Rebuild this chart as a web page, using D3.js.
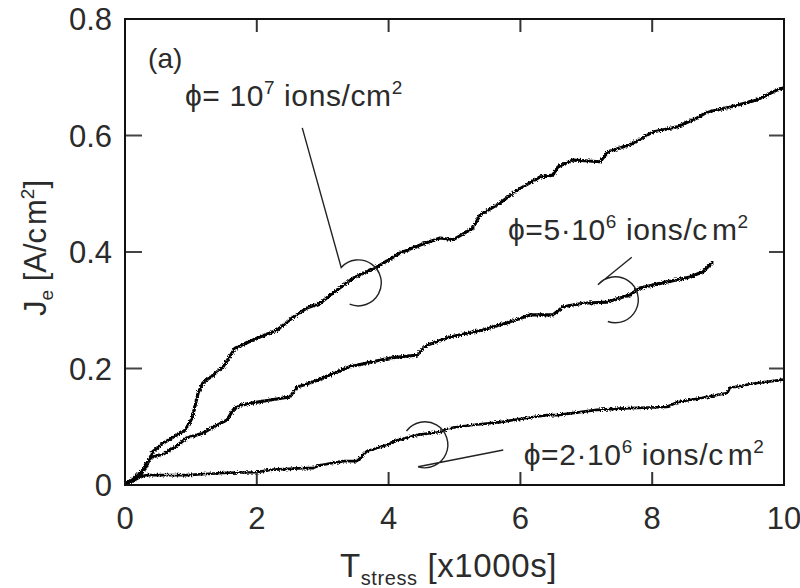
<!DOCTYPE html>
<html>
<head>
<meta charset="utf-8">
<script src="https://cdn.jsdelivr.net/npm/d3@7"></script>
<style>
  html, body { margin: 0; padding: 0; background: #fff; }
  svg { display: block; font-family: "Liberation Sans", Arial, sans-serif; }
</style>
</head>
<body>
<svg id="chart" width="800" height="588"></svg>
<script>
// ---- data (T_stress in 1000 s, Je in A/cm2) ----
const seriesHigh = [
  [0,0],[0.03,0.003],[0.18,0.017],[0.30,0.026],[0.42,0.057],[0.58,0.072],[0.73,0.082],
  [0.91,0.094],[1.02,0.115],[1.11,0.158],[1.18,0.175],[1.34,0.189],[1.49,0.203],
  [1.67,0.235],[1.85,0.244],[2.00,0.252],[2.31,0.266],[2.55,0.288],[2.76,0.304],
  [2.96,0.312],[3.16,0.330],[3.46,0.355],[3.82,0.374],[4.17,0.398],[4.48,0.412],
  [4.78,0.424],[4.98,0.421],[5.28,0.441],[5.39,0.464],[5.69,0.484],[5.95,0.506],
  [6.30,0.529],[6.49,0.532],[6.57,0.546],[6.80,0.558],[7.21,0.555],[7.33,0.572],
  [7.66,0.584],[8.01,0.606],[8.38,0.615],[8.68,0.630],[8.83,0.640],[9.18,0.649],
  [9.59,0.661],[9.89,0.678],[10.0,0.682]
];
const seriesMid = [
  [0,0],[0.08,0.005],[0.23,0.014],[0.33,0.038],[0.42,0.048],[0.58,0.053],[0.76,0.065],
  [0.94,0.081],[1.18,0.089],[1.40,0.103],[1.55,0.112],[1.64,0.129],[1.75,0.137],
  [1.94,0.141],[2.20,0.146],[2.50,0.151],[2.61,0.168],[2.81,0.175],[2.96,0.182],
  [3.41,0.203],[4.02,0.218],[4.43,0.223],[4.58,0.240],[4.93,0.254],[5.43,0.266],
  [5.84,0.280],[6.15,0.292],[6.49,0.292],[6.65,0.306],[6.95,0.312],[7.31,0.314],
  [7.66,0.326],[7.81,0.338],[8.16,0.347],[8.57,0.357],[8.77,0.366],[8.92,0.383]
];
const seriesLow = [
  [0,0],[0.05,0.002],[0.15,0.012],[0.33,0.017],[0.94,0.017],[1.55,0.021],[2.00,0.022],
  [2.20,0.026],[2.70,0.029],[2.85,0.029],[2.96,0.034],[3.31,0.041],[3.52,0.041],
  [3.67,0.058],[3.98,0.069],[4.13,0.077],[4.43,0.086],[4.78,0.091],[4.93,0.098],
  [5.28,0.103],[5.69,0.108],[6.10,0.115],[6.40,0.120],[6.56,0.120],[7.16,0.129],
  [7.66,0.132],[8.22,0.134],[8.38,0.142],[8.83,0.151],[9.14,0.158],[9.18,0.167],
  [9.59,0.175],[9.94,0.180],[10.0,0.181]
];
const xTicks = [0, 2, 4, 6, 8, 10];
const yTicks = [0, 0.2, 0.4, 0.6, 0.8];
const yTickLabels = ["0", "0.2", "0.4", "0.6", "0.8"];
// annotation anchors (data units)
const labelHigh = {x: 0.91, y: 0.651, main: "ϕ= 10", exp: "7", unit: " ions/cm", gap: 0};
const labelMid  = {x: 5.81, y: 0.421, main: "ϕ=5·10", exp: "6", unit: " ions/c", gap: 4};
const labelLow  = {x: 6.05, y: 0.034, main: "ϕ=2·10", exp: "6", unit: " ions/c", gap: 4};
const leaderHigh = {cx: 3.54, cy: 0.347, a0: -138, a1: 112, tipX: 2.69, tipY: 0.613, fromEnd: false};
const leaderMid  = {cx: 7.44, cy: 0.318, a0: -139, a1: 109, tipX: 7.69, tipY: 0.391, fromEnd: false};
const leaderLow  = {cx: 4.55, cy: 0.069, a0: -143, a1: 107, tipX: 5.74, tipY: 0.060, fromEnd: true};
const panelLabel = {x: 0.35, y: 0.716, text: "(a)"};

// ---- layout ----
const svg = d3.select("#chart");
const L = 125, R = 784, T = 19, B = 485;
const x = d3.scaleLinear().domain([0, 10]).range([L, R]);
const y = d3.scaleLinear().domain([0, 0.8]).range([B, T]);
const txtColor = "#2b2b2b";

// rough-line filter (gives the measured traces their jagged look)
const defs = svg.append("defs");
const f = defs.append("filter").attr("id", "rough")
  .attr("filterUnits", "userSpaceOnUse").attr("x", 0).attr("y", 0)
  .attr("width", 800).attr("height", 588);
f.append("feTurbulence").attr("type", "fractalNoise").attr("baseFrequency", 0.7)
  .attr("numOctaves", 2).attr("seed", 5).attr("result", "n");
f.append("feDisplacementMap").attr("in", "SourceGraphic").attr("in2", "n")
  .attr("scale", 4).attr("xChannelSelector", "R").attr("yChannelSelector", "G");

const clip = defs.append("clipPath").attr("id", "plotclip");
clip.append("rect").attr("x", L).attr("y", T - 2).attr("width", R - L + 2).attr("height", B - T + 2);

// ---- curves ----
const line = d3.line().x(d => x(d[0])).y(d => y(d[1])).curve(d3.curveLinear);
const g = svg.append("g").attr("clip-path", "url(#plotclip)");
[seriesHigh, seriesMid, seriesLow].forEach((s, i) => {
  g.append("path").datum(s).attr("d", line)
    .attr("fill", "none").attr("stroke", "#000").attr("stroke-width", i === 2 ? 2.6 : 3.1)
    .attr("stroke-linejoin", "round").attr("filter", "url(#rough)");
});

// ---- frame and ticks ----
const tickLen = 13;
svg.append("g").selectAll("line.tb").data(xTicks.slice(1, -1)).join("line")
  .attr("x1", d => x(d)).attr("x2", d => x(d)).attr("y1", B).attr("y2", B - tickLen)
  .attr("stroke", "#333").attr("stroke-width", 2);
svg.append("g").selectAll("line.tt").data(xTicks.slice(1, -1)).join("line")
  .attr("x1", d => x(d)).attr("x2", d => x(d)).attr("y1", T).attr("y2", T + tickLen)
  .attr("stroke", "#333").attr("stroke-width", 2);
svg.append("g").selectAll("line.tl").data(yTicks.slice(1, -1)).join("line")
  .attr("x1", L).attr("x2", L + 17).attr("y1", d => y(d)).attr("y2", d => y(d))
  .attr("stroke", "#444").attr("stroke-width", 2);
svg.append("g").selectAll("line.tr").data(yTicks.slice(1, -1)).join("line")
  .attr("x1", R).attr("x2", R - 15).attr("y1", d => y(d)).attr("y2", d => y(d))
  .attr("stroke", "#444").attr("stroke-width", 2);
svg.append("rect").attr("x", L).attr("y", T).attr("width", R - L).attr("height", B - T)
  .attr("fill", "none").attr("stroke", "#111").attr("stroke-width", 2);

// tick labels
svg.append("g").selectAll("text").data(xTicks).join("text")
  .attr("x", d => x(d)).attr("y", 529).attr("text-anchor", "middle")
  .attr("font-size", 31).attr("fill", txtColor).text(d => d);
svg.append("g").selectAll("text").data(yTicks).join("text")
  .attr("x", 112).attr("y", d => y(d) + 11).attr("text-anchor", "end")
  .attr("font-size", 31).attr("fill", txtColor).text((d, i) => yTickLabels[i]);

// axis titles
const xt = svg.append("text").attr("x", 340).attr("y", 577).attr("font-size", 33)
  .attr("letter-spacing", 0.6).attr("fill", txtColor);
xt.append("tspan").text("T");
xt.append("tspan").attr("font-size", 20).attr("dy", 8).text("stress");
xt.append("tspan").attr("dy", -8).text(" [x1000s]");

const yt = svg.append("text").attr("transform", "translate(46,248) rotate(-90)")
  .attr("text-anchor", "middle").attr("font-size", 31).attr("fill", txtColor);
yt.append("tspan").text("J");
yt.append("tspan").attr("font-size", 19).attr("dy", 7).text("e");
yt.append("tspan").attr("dy", -7).text(" [A/c");
yt.append("tspan").attr("dx", 3).text("m");
yt.append("tspan").attr("font-size", 19).attr("dy", -12).text("2");
yt.append("tspan").attr("dy", 12).text("]");

// panel label
svg.append("text").attr("x", x(panelLabel.x)).attr("y", y(panelLabel.y))
  .attr("font-size", 28).attr("fill", txtColor).text(panelLabel.text);

// annotations
function addLabel(lb) {
  const t = svg.append("text").attr("x", x(lb.x)).attr("y", y(lb.y))
    .attr("font-size", 30).attr("letter-spacing", 0.6).attr("fill", txtColor);
  t.append("tspan").text(lb.main);
  t.append("tspan").attr("font-size", 19).attr("dy", -12).text(lb.exp);
  t.append("tspan").attr("dy", 12).text(lb.unit);
  if (lb.gap > 0) t.append("tspan").attr("dx", lb.gap).text("m");
  t.append("tspan").attr("font-size", 19).attr("dy", -12).text("2");
}
[labelHigh, labelMid, labelLow].forEach(addLabel);

function addLeader(ld) {
  const cx = x(ld.cx), cy = y(ld.cy), r = 23;
  const a0 = ld.a0 * Math.PI / 180, a1 = ld.a1 * Math.PI / 180;
  const sx = cx + r * Math.cos(a0), sy = cy + r * Math.sin(a0);
  const ex = cx + r * Math.cos(a1), ey = cy + r * Math.sin(a1);
  const p = d3.path();
  if (!ld.fromEnd) {
    p.moveTo(x(ld.tipX), y(ld.tipY));
    p.lineTo(sx, sy);
    p.arc(cx, cy, r, a0, a1, false);
  } else {
    p.moveTo(sx, sy);
    p.arc(cx, cy, r, a0, a1, false);
    p.lineTo(x(ld.tipX), y(ld.tipY));
  }
  svg.append("path").attr("d", p.toString()).attr("fill", "none")
    .attr("stroke", "#222").attr("stroke-width", 1.4);
}
[leaderHigh, leaderMid, leaderLow].forEach(addLeader);
</script>
</body>
</html>
